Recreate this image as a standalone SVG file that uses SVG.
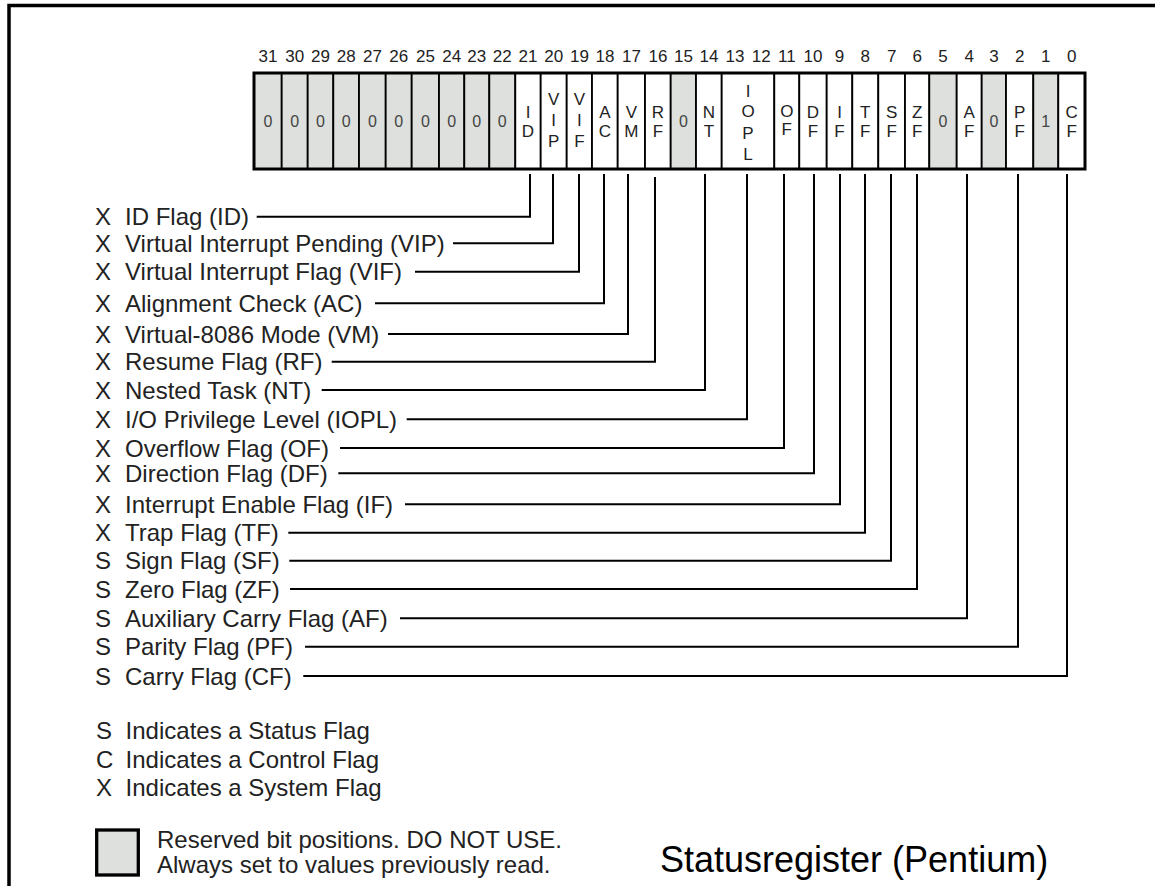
<svg xmlns="http://www.w3.org/2000/svg" width="1155" height="886" viewBox="0 0 1155 886">
<style>
.t{font-family:"Liberation Sans",Arial,Helvetica,sans-serif;fill:#222}
.lbl{font-size:24px}
.bit{font-size:17px;text-anchor:middle}
.cl{font-size:17px;text-anchor:middle}
.dg{font-size:16px;text-anchor:middle;fill:#444}
.w{fill:#fff;stroke:#000;stroke-width:1.8}
.g{fill:#dde0dc;stroke:#000;stroke-width:1.8}
.conn{fill:none;stroke:#000;stroke-width:2}
</style>
<rect width="1155" height="886" fill="#fff"/>
<path d="M9 886 V5.5 H1155" fill="none" stroke="#000" stroke-width="3.5"/>

<g id="bitnumbers" class="t bit">
<text x="267.9" y="62">31</text><text x="294.7" y="62">30</text><text x="320.5" y="62">29</text><text x="346.2" y="62">28</text><text x="372.4" y="62">27</text><text x="398.7" y="62">26</text><text x="425.4" y="62">25</text><text x="451.7" y="62">24</text><text x="476.8" y="62">23</text><text x="502.3" y="62">22</text><text x="528" y="62">21</text><text x="553.7" y="62">20</text><text x="579.4" y="62">19</text><text x="604.9" y="62">18</text><text x="631.4" y="62">17</text><text x="657.9" y="62">16</text><text x="683.4" y="62">15</text><text x="708.9" y="62">14</text><text x="734.9" y="62">13</text><text x="761.2" y="62">12</text><text x="786.8" y="62">11</text><text x="813" y="62">10</text><text x="839.5" y="62">9</text><text x="865.3" y="62">8</text><text x="891.7" y="62">7</text><text x="917.2" y="62">6</text><text x="943" y="62">5</text><text x="969.2" y="62">4</text><text x="993.9" y="62">3</text><text x="1019.7" y="62">2</text><text x="1045.8" y="62">1</text><text x="1071.7" y="62">0</text>
</g>

<g id="register">
<g id="bit31"><rect class="g" x="254" y="73" width="27.7" height="96"/><text class="t dg" x="267.9" y="127">0</text></g>
<g id="bit30"><rect class="g" x="281.7" y="73" width="26" height="96"/><text class="t dg" x="294.7" y="127">0</text></g>
<g id="bit29"><rect class="g" x="307.7" y="73" width="25.6" height="96"/><text class="t dg" x="320.5" y="127">0</text></g>
<g id="bit28"><rect class="g" x="333.3" y="73" width="25.7" height="96"/><text class="t dg" x="346.2" y="127">0</text></g>
<g id="bit27"><rect class="g" x="359" y="73" width="26.7" height="96"/><text class="t dg" x="372.4" y="127">0</text></g>
<g id="bit26"><rect class="g" x="385.7" y="73" width="26" height="96"/><text class="t dg" x="398.7" y="127">0</text></g>
<g id="bit25"><rect class="g" x="411.7" y="73" width="27.3" height="96"/><text class="t dg" x="425.4" y="127">0</text></g>
<g id="bit24"><rect class="g" x="439" y="73" width="25.3" height="96"/><text class="t dg" x="451.7" y="127">0</text></g>
<g id="bit23"><rect class="g" x="464.3" y="73" width="25" height="96"/><text class="t dg" x="476.8" y="127">0</text></g>
<g id="bit22"><rect class="g" x="489.3" y="73" width="26" height="96"/><text class="t dg" x="502.3" y="127">0</text></g>
<g id="bit21-ID"><rect class="w" x="515.3" y="73" width="25.4" height="96"/><text class="t cl" x="528" y="118">I</text><text class="t cl" x="528" y="136.5">D</text></g>
<g id="bit20-VIP"><rect class="w" x="540.7" y="73" width="26" height="96"/><text class="t cl" x="553.7" y="105">V</text><text class="t cl" x="553.7" y="126">I</text><text class="t cl" x="553.7" y="147">P</text></g>
<g id="bit19-VIF"><rect class="w" x="566.7" y="73" width="25.3" height="96"/><text class="t cl" x="579.4" y="105">V</text><text class="t cl" x="579.4" y="126">I</text><text class="t cl" x="579.4" y="147">F</text></g>
<g id="bit18-AC"><rect class="w" x="592" y="73" width="25.7" height="96"/><text class="t cl" x="604.9" y="118">A</text><text class="t cl" x="604.9" y="136.5">C</text></g>
<g id="bit17-VM"><rect class="w" x="617.7" y="73" width="27.3" height="96"/><text class="t cl" x="631.4" y="118">V</text><text class="t cl" x="631.4" y="136.5">M</text></g>
<g id="bit16-RF"><rect class="w" x="645" y="73" width="25.7" height="96"/><text class="t cl" x="657.9" y="118">R</text><text class="t cl" x="657.9" y="136.5">F</text></g>
<g id="bit15"><rect class="g" x="670.7" y="73" width="25.3" height="96"/><text class="t dg" x="683.4" y="127">0</text></g>
<g id="bit14-NT"><rect class="w" x="696" y="73" width="25.7" height="96"/><text class="t cl" x="708.9" y="118">N</text><text class="t cl" x="708.9" y="136.5">T</text></g>
<g id="bit13-12-IOPL"><rect class="w" x="721.7" y="73" width="52.6" height="96"/><text class="t cl" x="748" y="97">I</text><text class="t cl" x="748" y="117">O</text><text class="t cl" x="748" y="138.5">P</text><text class="t cl" x="748" y="160">L</text></g>
<g id="bit11-OF"><rect class="w" x="774.3" y="73" width="25" height="96"/><text class="t cl" x="786.8" y="117">O</text><text class="t cl" x="786.8" y="135">F</text></g>
<g id="bit10-DF"><rect class="w" x="799.3" y="73" width="27.4" height="96"/><text class="t cl" x="813" y="118">D</text><text class="t cl" x="813" y="136.5">F</text></g>
<g id="bit9-IF"><rect class="w" x="826.7" y="73" width="25.6" height="96"/><text class="t cl" x="839.5" y="118">I</text><text class="t cl" x="839.5" y="136.5">F</text></g>
<g id="bit8-TF"><rect class="w" x="852.3" y="73" width="26" height="96"/><text class="t cl" x="865.3" y="118">T</text><text class="t cl" x="865.3" y="136.5">F</text></g>
<g id="bit7-SF"><rect class="w" x="878.3" y="73" width="26.7" height="96"/><text class="t cl" x="891.7" y="118">S</text><text class="t cl" x="891.7" y="136.5">F</text></g>
<g id="bit6-ZF"><rect class="w" x="905" y="73" width="24.3" height="96"/><text class="t cl" x="917.2" y="118">Z</text><text class="t cl" x="917.2" y="136.5">F</text></g>
<g id="bit5"><rect class="g" x="929.3" y="73" width="27.4" height="96"/><text class="t dg" x="943" y="127">0</text></g>
<g id="bit4-AF"><rect class="w" x="956.7" y="73" width="25" height="96"/><text class="t cl" x="969.2" y="118">A</text><text class="t cl" x="969.2" y="136.5">F</text></g>
<g id="bit3"><rect class="g" x="981.7" y="73" width="24.3" height="96"/><text class="t dg" x="993.9" y="127">0</text></g>
<g id="bit2-PF"><rect class="w" x="1006" y="73" width="27.3" height="96"/><text class="t cl" x="1019.7" y="118">P</text><text class="t cl" x="1019.7" y="136.5">F</text></g>
<g id="bit1"><rect class="g" x="1033.3" y="73" width="25" height="96"/><text class="t dg" x="1045.8" y="127">1</text></g>
<g id="bit0-CF"><rect class="w" x="1058.3" y="73" width="26.7" height="96"/><text class="t cl" x="1071.7" y="118">C</text><text class="t cl" x="1071.7" y="136.5">F</text></g>
<rect x="254" y="73" width="831" height="96" fill="none" stroke="#000" stroke-width="3"/>
</g>

<g id="connectors" class="conn">
<path d="M530 174 V216.7 H256.7"/>
<path d="M553 174 V243.3 H453"/>
<path d="M579 174 V271.7 H415"/>
<path d="M604 174 V303.3 H375"/>
<path d="M628 174 V334 H388"/>
<path d="M655 177 V361.7 H331.7"/>
<path d="M705 174 V390 H321.7"/>
<path d="M747 174 V419.3 H406.7"/>
<path d="M784 174 V448 H340"/>
<path d="M814 174 V473.3 H338.3"/>
<path d="M840 174 V504.3 H405"/>
<path d="M865 174 V532.7 H288.3"/>
<path d="M891 174 V560.7 H289.3"/>
<path d="M917 174 V589 H290"/>
<path d="M967 174 V618.3 H400"/>
<path d="M1018 174 V646.7 H305"/>
<path d="M1067 174 V676 H303.3"/>
</g>

<g id="labels" class="t lbl">
<g id="lbl-ID"><text x="95" y="225.2">X</text><text x="125" y="225.2">ID Flag (ID)</text></g>
<g id="lbl-VIP"><text x="95" y="251.8">X</text><text x="125" y="251.8">Virtual Interrupt Pending (VIP)</text></g>
<g id="lbl-VIF"><text x="95" y="280.2">X</text><text x="125" y="280.2">Virtual Interrupt Flag (VIF)</text></g>
<g id="lbl-AC"><text x="95" y="311.8">X</text><text x="125" y="311.8">Alignment Check (AC)</text></g>
<g id="lbl-VM"><text x="95" y="342.5">X</text><text x="125" y="342.5">Virtual-8086 Mode (VM)</text></g>
<g id="lbl-RF"><text x="95" y="370.2">X</text><text x="125" y="370.2">Resume Flag (RF)</text></g>
<g id="lbl-NT"><text x="95" y="398.5">X</text><text x="125" y="398.5">Nested Task (NT)</text></g>
<g id="lbl-IOPL"><text x="95" y="427.8">X</text><text x="125" y="427.8">I/O Privilege Level (IOPL)</text></g>
<g id="lbl-OF"><text x="95" y="456.5">X</text><text x="125" y="456.5">Overflow Flag (OF)</text></g>
<g id="lbl-DF"><text x="95" y="481.8">X</text><text x="125" y="481.8">Direction Flag (DF)</text></g>
<g id="lbl-IF"><text x="95" y="512.8">X</text><text x="125" y="512.8">Interrupt Enable Flag (IF)</text></g>
<g id="lbl-TF"><text x="95" y="541.2">X</text><text x="125" y="541.2">Trap Flag (TF)</text></g>
<g id="lbl-SF"><text x="95" y="569.2">S</text><text x="125" y="569.2">Sign Flag (SF)</text></g>
<g id="lbl-ZF"><text x="95" y="597.5">S</text><text x="125" y="597.5">Zero Flag (ZF)</text></g>
<g id="lbl-AF"><text x="95" y="626.8">S</text><text x="125" y="626.8">Auxiliary Carry Flag (AF)</text></g>
<g id="lbl-PF"><text x="95" y="655.2">S</text><text x="125" y="655.2">Parity Flag (PF)</text></g>
<g id="lbl-CF"><text x="95" y="684.5">S</text><text x="125" y="684.5">Carry Flag (CF)</text></g>
</g>

<g id="legend" class="t lbl">
<text x="96" y="739">S</text><text x="125.6" y="739">Indicates a Status Flag</text>
<text x="96" y="767.5">C</text><text x="125.6" y="767.5">Indicates a Control Flag</text>
<text x="96" y="796">X</text><text x="125.6" y="796">Indicates a System Flag</text>
</g>
<g id="reserved-legend">
<rect x="96.7" y="830" width="41.6" height="45" fill="#dde0dc" stroke="#000" stroke-width="3.3"/>
<text class="t lbl" x="157" y="847.5">Reserved bit positions. DO NOT USE.</text>
<text class="t lbl" x="157" y="873">Always set to values previously read.</text>
</g>
<g id="title"><text class="t" x="660" y="872" style="font-size:36px;fill:#000">Statusregister (Pentium)</text></g>
</svg>
